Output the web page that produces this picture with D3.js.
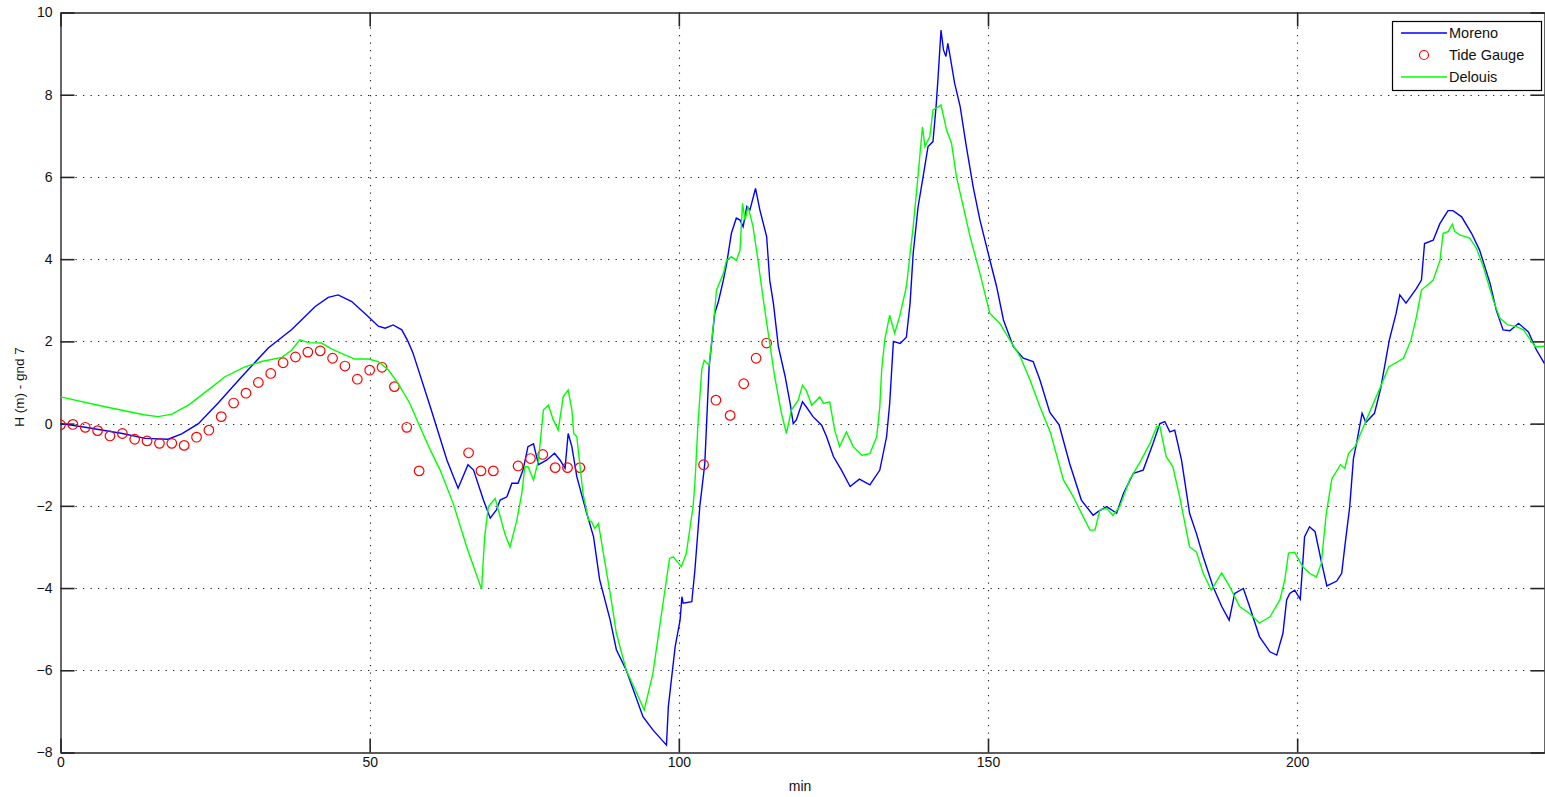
<!DOCTYPE html>
<html><head><meta charset="utf-8">
<script src="https://cdn.jsdelivr.net/npm/d3@7/dist/d3.min.js"></script>
<style>
html,body{margin:0;padding:0;background:#fff;}
svg{display:block;}
text{font-family:"Liberation Sans",Arial,sans-serif;}
</style></head>
<body>
<svg id="c" width="1545" height="797"></svg>
<script>
const xTicks=[0,50,100,150,200];
const yTicks=[-8,-6,-4,-2,0,2,4,6,8,10];
const seriesNames=["Moreno","Tide Gauge","Delouis"];

const morenoT=[0,4,10,13.7,17.4,19.6,22.3,25.5,29.3,33.6,37.4,41.2,43.3,44.9,47.1,49.8,51.4,52.5,53.8,55.2,56.2,57,59.8,62.5,64.3,65.9,66.8,68.4,69.5,70.5,71.1,72.2,73,74,74.8,75.6,76.5,77.3,78.6,79.9,80.8,81.6,82.1,82.7,83.5,85.1,86.2,87.2,88.9,89.9,91.5,94.2,95.8,98,98.3,99.4,100.2,100.5,100.7,102.1,102.6,103.4,103.7,104.2,104.9,105.3,105.8,106.4,107.2,107.7,108.5,109.3,109.9,110.4,111,111.5,112.4,113.1,114.2,114.7,115.3,116.1,117.2,118,118.5,119,120,120.6,121.7,123.1,123.9,125,126.3,127.7,129.2,130.9,132.5,133.6,134.1,134.7,135.8,136.8,137.4,137.9,138.7,139.5,140.3,141.1,141.6,141.9,142.2,142.4,142.8,143.2,143.5,143.8,144.6,145.5,146.5,147.6,148.7,150.3,151.4,152.5,154.1,155.7,157.3,158.4,160,161.5,163.2,165.1,167,167.8,169.2,170.8,171.9,173.5,175.1,176.7,177.8,178.6,179.4,180.2,181.3,182.6,183.7,184.8,186.4,187.8,189,189.9,191.3,192.3,193.9,195.6,196.7,197.7,198.3,198.8,199.6,200.5,201.2,202,202.9,203.8,204.8,206.4,207.2,207.7,208.5,209.1,209.6,210.5,211.1,212.5,213.5,214.9,216,216.6,217.6,219.3,220.1,220.6,222,223.1,224.4,225.2,226.6,228.2,229.5,231.2,232.2,233.3,234.4,235.8,237.4,238.7,240];
const morenoH=[0,-0.09,-0.24,-0.36,-0.38,-0.25,0.0,0.5,1.14,1.84,2.29,2.85,3.07,3.13,2.97,2.6,2.37,2.32,2.4,2.28,2.0,1.72,0.41,-0.89,-1.57,-1.0,-1.13,-1.86,-2.3,-2.1,-1.86,-1.78,-1.45,-1.45,-1.13,-0.56,-0.49,-1.0,-0.89,-0.72,-0.89,-1.09,-0.24,-0.56,-1.29,-2.18,-2.75,-3.8,-4.78,-5.5,-6.0,-7.13,-7.45,-7.82,-6.89,-5.43,-4.78,-4.21,-4.37,-4.33,-3.56,-2.0,-1.62,-0.97,1.38,1.95,2.68,2.97,3.49,3.86,4.63,5.0,4.95,4.79,5.28,5.2,5.72,5.2,4.55,3.49,2.92,1.87,1.14,0.49,0.0,0.09,0.53,0.41,0.17,-0.04,-0.32,-0.8,-1.13,-1.53,-1.35,-1.49,-1.13,-0.32,0.49,2.0,1.95,2.1,2.93,4.14,5.28,6.0,6.74,6.86,7.71,8.36,9.09,9.57,9.09,8.93,9.25,9.0,8.28,7.71,6.74,5.76,4.95,3.98,3.33,2.52,1.87,1.59,1.51,1.06,0.27,-0.03,-0.97,-1.86,-2.23,-2.14,-2.02,-2.18,-1.7,-1.21,-1.13,-0.48,0.0,0.05,-0.2,-0.16,-0.89,-2.18,-2.67,-3.24,-3.97,-4.45,-4.78,-4.13,-4.01,-4.45,-5.18,-5.55,-5.63,-5.1,-4.29,-4.13,-4.05,-4.27,-2.75,-2.51,-2.63,-3.28,-3.95,-3.83,-3.64,-3.0,-2.02,-0.85,-0.48,0.25,0.03,0.25,0.85,2.03,2.68,3.13,2.93,3.29,3.49,4.38,4.46,4.87,5.18,5.18,5.03,4.63,4.22,3.41,2.76,2.28,2.26,2.44,2.23,1.79,1.46];

const delouisT=[0,7.2,13.7,15.8,18,20.7,23.9,26.6,29.8,32.5,35.8,37.4,38.7,40.1,42.2,43.9,46,47.6,49.8,51.4,53,54.6,56.5,58.2,59.8,61.4,63.5,65.7,68.1,68.6,69.2,70.3,71.1,71.9,72.7,73.8,74.6,75.1,75.6,76.5,77.3,78.1,78.9,79.7,80.5,81.3,82.1,82.7,83,83.5,84.5,85.4,85.9,86.4,87,87.8,88.9,89.9,91.5,93.2,94.4,95.8,97.2,98.5,99.1,100.4,101.2,102.3,102.6,103.1,103.7,104.1,104.9,105.6,106.1,107.2,107.7,108.5,109.3,109.9,110.3,110.7,111.2,112,112.8,113.6,114.7,115.5,116.6,117.4,118.2,119.3,120,120.6,121.5,122.8,123.4,124.4,125.2,126,127.1,128.2,129.6,130.9,132,132.5,132.8,133.3,134.1,134.9,135.7,136.8,137.9,138.7,139.4,139.8,140.6,141.1,141.9,142.4,143.3,144.1,144.9,146,147.1,148.7,150.3,151.9,153.5,155.2,156.8,158.4,160.1,162.2,163.8,165.4,166.5,167.3,168.1,169.2,170.2,171.3,172.9,174.6,176.2,177.3,177.8,178.8,179.9,181,182.6,183.7,184.8,186.1,187.8,189.1,190.7,192.3,193.9,195.6,197.2,198,198.6,199.6,200.9,202,203.1,203.9,204.7,205.6,207,207.7,208.3,209.4,210.7,212.2,213.5,214.8,217.2,218.4,219.3,220.1,222,223.1,223.6,224.4,225.1,225.5,226.3,227.9,229,230.1,231.7,232.8,234.1,235.5,236.6,238.5,240];
const delouisH=[0.65,0.41,0.21,0.17,0.23,0.45,0.82,1.14,1.38,1.51,1.61,1.79,2.04,1.97,1.96,1.81,1.67,1.57,1.57,1.51,1.31,0.98,0.49,-0.1,-0.64,-1.13,-1.94,-3.0,-4.03,-2.75,-2.02,-1.82,-2.26,-2.7,-3.0,-2.35,-1.7,-1.05,-1.05,-1.37,-0.89,0.33,0.45,0.09,-0.16,0.65,0.82,0.33,-0.24,-0.32,-1.7,-2.35,-2.39,-2.55,-2.43,-3.16,-4.13,-5.1,-6.0,-6.56,-6.97,-6.08,-4.62,-3.28,-3.24,-3.48,-3.16,-2.02,-1.45,0.0,1.3,1.54,1.42,2.43,3.25,3.65,3.97,4.06,3.97,4.22,5.36,4.95,5.28,4.79,3.97,3.08,1.95,1.14,0.25,-0.24,0.33,0.57,0.93,0.81,0.45,0.65,0.49,0.53,-0.16,-0.56,-0.2,-0.56,-0.77,-0.73,-0.32,0.41,1.3,2.04,2.64,2.2,2.6,3.33,4.79,6.05,7.22,6.74,6.98,7.63,7.7,7.75,7.14,6.82,6.0,5.28,4.55,3.65,2.68,2.44,2.04,1.63,1.06,0.41,-0.22,-1.37,-1.78,-2.27,-2.59,-2.59,-2.1,-2.06,-2.23,-2.02,-1.37,-0.93,-0.48,-0.07,-0.07,-0.8,-1.05,-1.78,-3.0,-3.12,-3.64,-4.05,-3.63,-3.97,-4.45,-4.62,-4.85,-4.7,-4.29,-3.8,-3.15,-3.13,-3.48,-3.64,-3.73,-3.4,-2.2,-1.35,-1.0,-1.09,-0.73,-0.55,-0.08,0.45,0.9,1.38,1.59,2.03,2.6,3.25,3.49,3.97,4.63,4.67,4.85,4.67,4.59,4.51,4.26,3.82,3.01,2.56,2.4,2.36,2.28,1.87,1.88];

const tideT=[0,2,4,6,8,10,12,14,16,18,20,22,24,26,28,30,32,34,36,38,40,42,44,46,48,50,52,54,56,58,66,68,70,74,76,78,80,82,84,104,106,108.3,110.5,112.5,114.2];
const tideH=[-0.03,-0.02,-0.09,-0.17,-0.3,-0.24,-0.38,-0.42,-0.48,-0.48,-0.53,-0.33,-0.16,0.17,0.5,0.74,1.0,1.22,1.48,1.62,1.74,1.77,1.59,1.4,1.08,1.3,1.37,0.9,-0.09,-1.15,-0.71,-1.15,-1.15,-1.03,-0.85,-0.75,-1.07,-1.07,-1.07,-1.0,0.57,0.2,0.97,1.59,1.96];

const L=60.5,R=1544.5,T=12.5,B=752.5;
const svg=d3.select("#c");
const x=d3.scaleLinear().domain([0,240]).range([L,R]);
const y=d3.scaleLinear().domain([-8,10]).range([B,T]);
const axisColor="#262626";
const tk=14;

// grid
const grid=svg.append("g").attr("stroke","#222").attr("stroke-width",1.1).attr("stroke-dasharray","1.3,6.2");
xTicks.filter(v=>v>0).forEach(v=>grid.append("line").attr("x1",Math.round(x(v))+0.5).attr("x2",Math.round(x(v))+0.5).attr("y1",T).attr("y2",B));
yTicks.filter(v=>v>-8&&v<10).forEach(v=>grid.append("line").attr("y1",Math.round(y(v))+0.5).attr("y2",Math.round(y(v))+0.5).attr("x1",L).attr("x2",R));

// axes
function styleAxis(g){g.select(".domain").attr("stroke",axisColor);g.selectAll(".tick line").attr("stroke",axisColor).attr("stroke-width",1.6);g.selectAll("text").attr("fill","#111").style("font-size","14px").style("font-family","Liberation Sans, Arial, sans-serif");}
svg.append("g").attr("transform",`translate(0,${B})`).call(d3.axisBottom(x).tickValues(xTicks).tickFormat(d3.format("d")).tickSizeInner(-tk).tickSizeOuter(0).tickPadding(5)).call(styleAxis);
svg.append("g").attr("transform",`translate(0,${T})`).call(d3.axisTop(x).tickValues(xTicks).tickFormat("").tickSizeInner(-tk).tickSizeOuter(0)).call(styleAxis);
svg.append("g").attr("transform",`translate(${L},0)`).call(d3.axisLeft(y).tickValues(yTicks).tickFormat(d3.format("d")).tickSizeInner(-tk).tickSizeOuter(0).tickPadding(8)).call(styleAxis);
svg.append("g").attr("transform",`translate(${R},0)`).call(d3.axisRight(y).tickValues(yTicks).tickFormat("").tickSizeInner(-tk).tickSizeOuter(0)).call(styleAxis);
svg.selectAll(".domain").attr("stroke-width",1.4);

// lines
const line=d3.line().x(d=>x(d[0])).y(d=>y(d[1]));
svg.append("clipPath").attr("id","pc").append("rect").attr("x",L).attr("y",T).attr("width",R-L).attr("height",B-T);
const plot=svg.append("g").attr("clip-path","url(#pc)");
plot.append("path").datum(d3.zip(morenoT,morenoH)).attr("d",line).attr("fill","none").attr("stroke","#0000ff").attr("stroke-width",1.4);
plot.selectAll("circle.tg").data(d3.zip(tideT,tideH)).join("circle").attr("class","tg").attr("cx",d=>x(d[0])).attr("cy",d=>y(d[1])).attr("r",4.8).attr("fill","none").attr("stroke","#ff0000").attr("stroke-width",1.2);
plot.append("path").datum(d3.zip(delouisT,delouisH)).attr("d",line).attr("fill","none").attr("stroke","#00ff00").attr("stroke-width",1.4);

// labels
svg.append("text").attr("x",800).attr("y",791).attr("text-anchor","middle").attr("fill","#111").style("font-size","14px").text("min");
svg.append("text").attr("transform",`translate(24,387) rotate(-90)`).attr("text-anchor","middle").attr("fill","#111").style("font-size","13.5px").text("H (m) - gnd 7");

// legend
const lg=svg.append("g");
lg.append("rect").attr("x",1392.5).attr("y",21.5).attr("width",149).attr("height",69).attr("fill","#fff").attr("stroke","#000").attr("stroke-width",1.2);
const ly=[33,55,77];
lg.append("line").attr("x1",1401).attr("x2",1447).attr("y1",ly[0]).attr("y2",ly[0]).attr("stroke","#0000ff").attr("stroke-width",1.3);
lg.append("circle").attr("cx",1424).attr("cy",ly[1]).attr("r",4.5).attr("fill","none").attr("stroke","#ff0000").attr("stroke-width",1.2);
lg.append("line").attr("x1",1401).attr("x2",1447).attr("y1",ly[2]).attr("y2",ly[2]).attr("stroke","#00ff00").attr("stroke-width",1.3);
seriesNames.forEach((n,i)=>lg.append("text").attr("x",1449).attr("y",ly[i]+5).attr("fill","#111").style("font-size","14.5px").text(n));
</script>
</body></html>
